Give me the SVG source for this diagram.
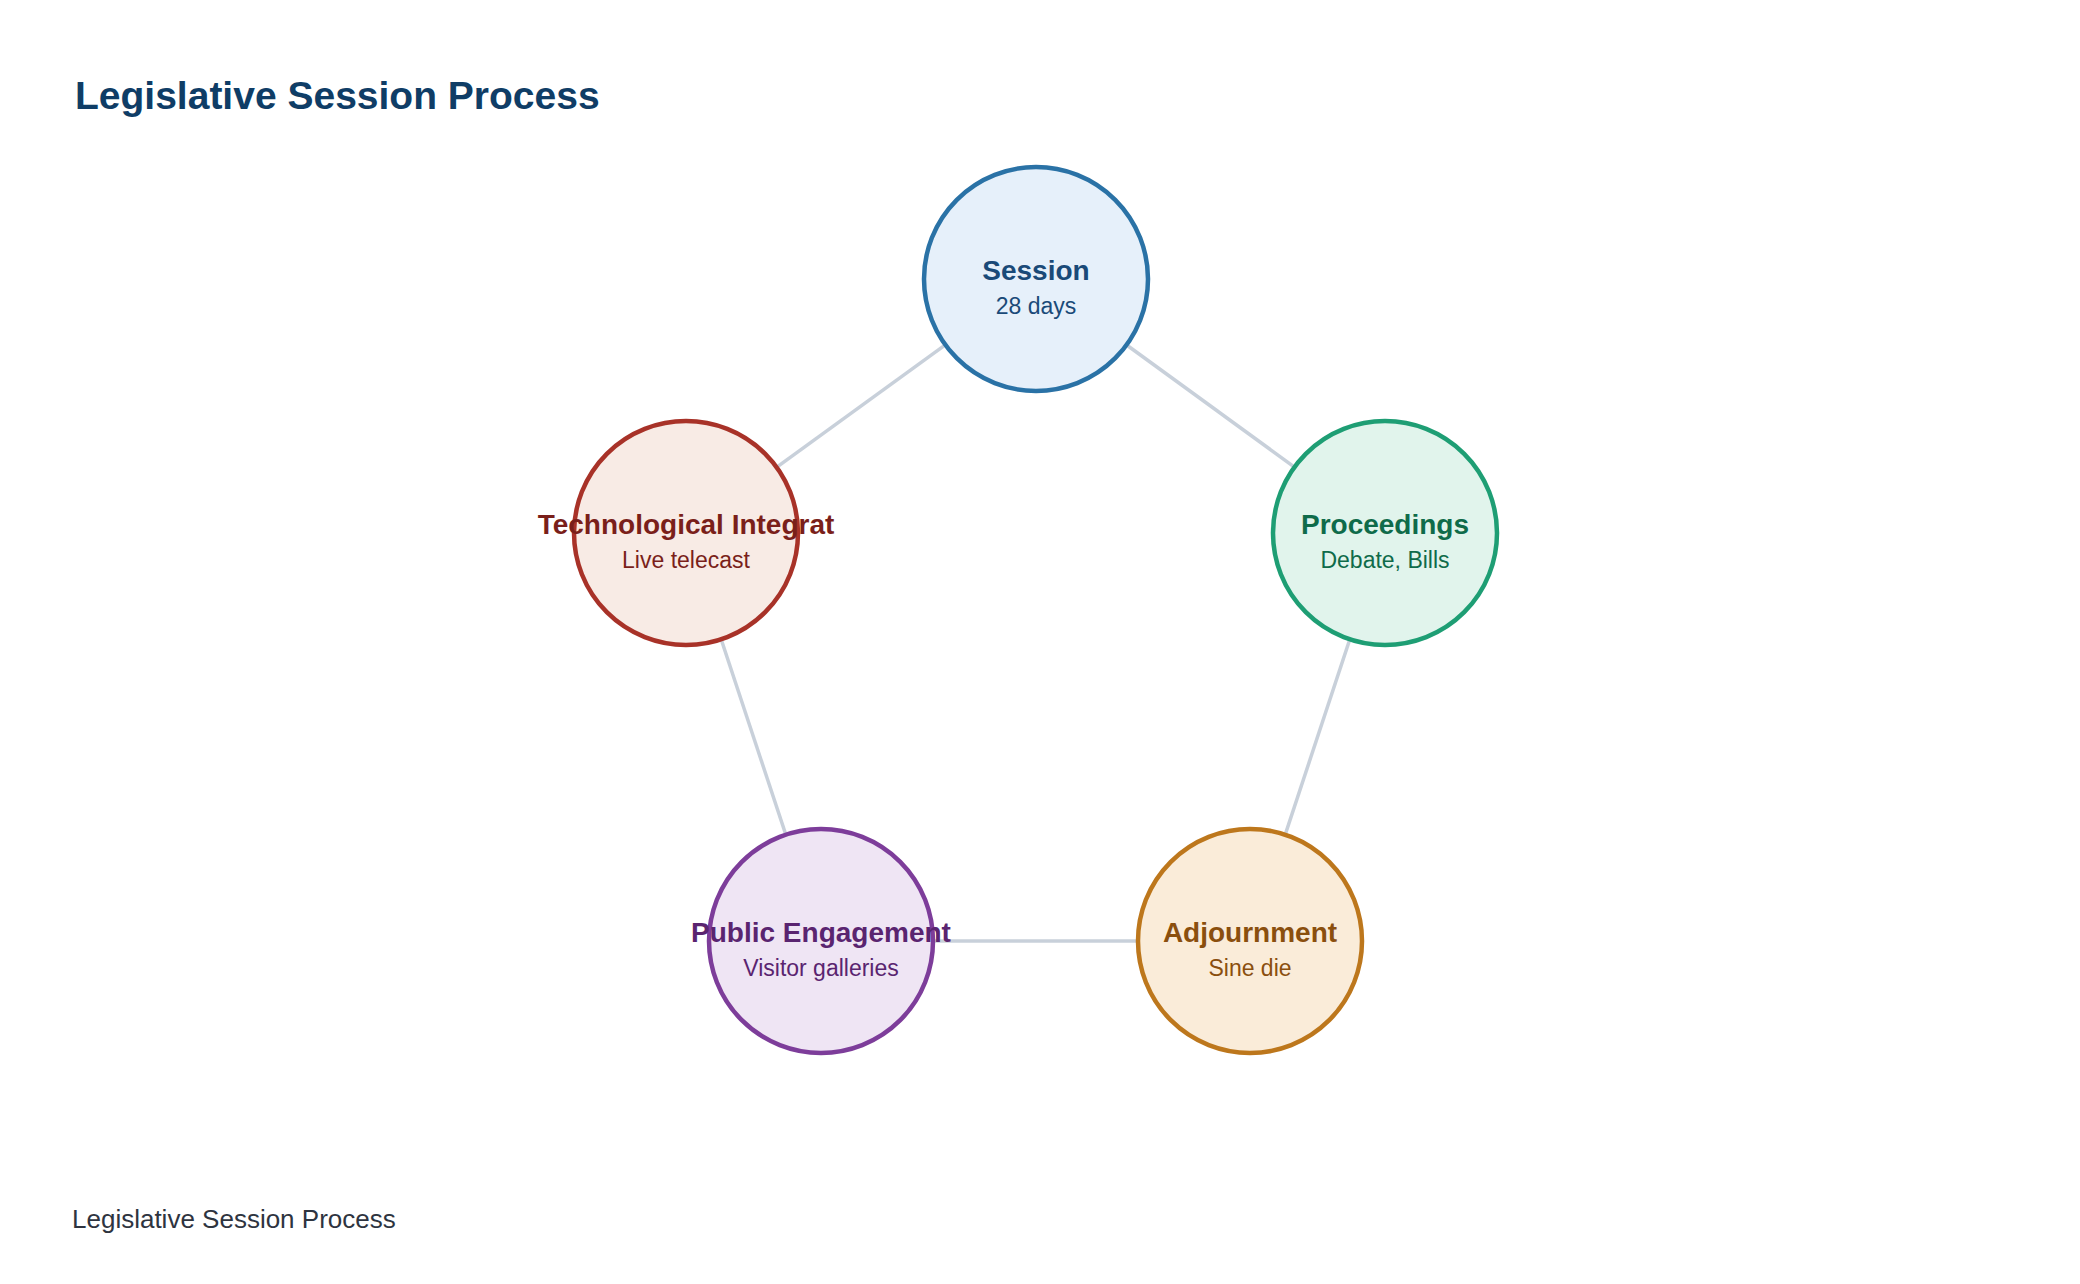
<svg xmlns="http://www.w3.org/2000/svg" width="2080" height="1284" viewBox="0 0 2080 1284">
<style>
text{font-family:"Liberation Sans",Arial,sans-serif;text-anchor:middle}
.t{font-weight:bold;font-size:28px}
.s{font-size:23px}
.e{stroke:#c8d0da;stroke-width:3.5;fill:none}
circle{stroke-width:4.5}
</style>
<rect width="2080" height="1284" fill="#ffffff"/>
<text x="75" y="109" style="text-anchor:start;font-weight:bold;font-size:39px" fill="#0f3d66">Legislative Session Process</text>
<g id="connectors">
<line class="e" x1="1036" y1="279" x2="1385" y2="533"/>
<line class="e" x1="1385" y1="533" x2="1250" y2="941"/>
<line class="e" x1="1250" y1="941" x2="821" y2="941"/>
<line class="e" x1="821" y1="941" x2="686" y2="533"/>
<line class="e" x1="686" y1="533" x2="1036" y2="279"/>
</g>
<g id="session">
<circle cx="1036" cy="279" r="112" fill="#e6f0fa" stroke="#2a72a6"/>
<text class="t" x="1036" y="280" fill="#1a4a78">Session</text>
<text class="s" x="1036" y="314" fill="#1a4a78">28 days</text>
</g>
<g id="proceedings">
<circle cx="1385" cy="533" r="112" fill="#e1f4ec" stroke="#1e9e74"/>
<text class="t" x="1385" y="534" fill="#0f6b4a">Proceedings</text>
<text class="s" x="1385" y="568" fill="#0f6b4a">Debate, Bills</text>
</g>
<g id="adjournment">
<circle cx="1250" cy="941" r="112" fill="#faecd9" stroke="#bd771c"/>
<text class="t" x="1250" y="942" fill="#8a4f0e">Adjournment</text>
<text class="s" x="1250" y="976" fill="#8a4f0e">Sine die</text>
</g>
<g id="public-engagement">
<circle cx="821" cy="941" r="112" fill="#efe5f4" stroke="#7d3d9a"/>
<text class="t" x="821" y="942" fill="#5a2470">Public Engagement</text>
<text class="s" x="821" y="976" fill="#5a2470">Visitor galleries</text>
</g>
<g id="technological-integration">
<circle cx="686" cy="533" r="112" fill="#f8ebe5" stroke="#a83228"/>
<text class="t" x="686" y="534" fill="#7a1f1a">Technological Integrat</text>
<text class="s" x="686" y="568" fill="#7a1f1a">Live telecast</text>
</g>
<text x="72" y="1228" style="text-anchor:start;font-size:26px" fill="#2e3440">Legislative Session Process</text>
</svg>
